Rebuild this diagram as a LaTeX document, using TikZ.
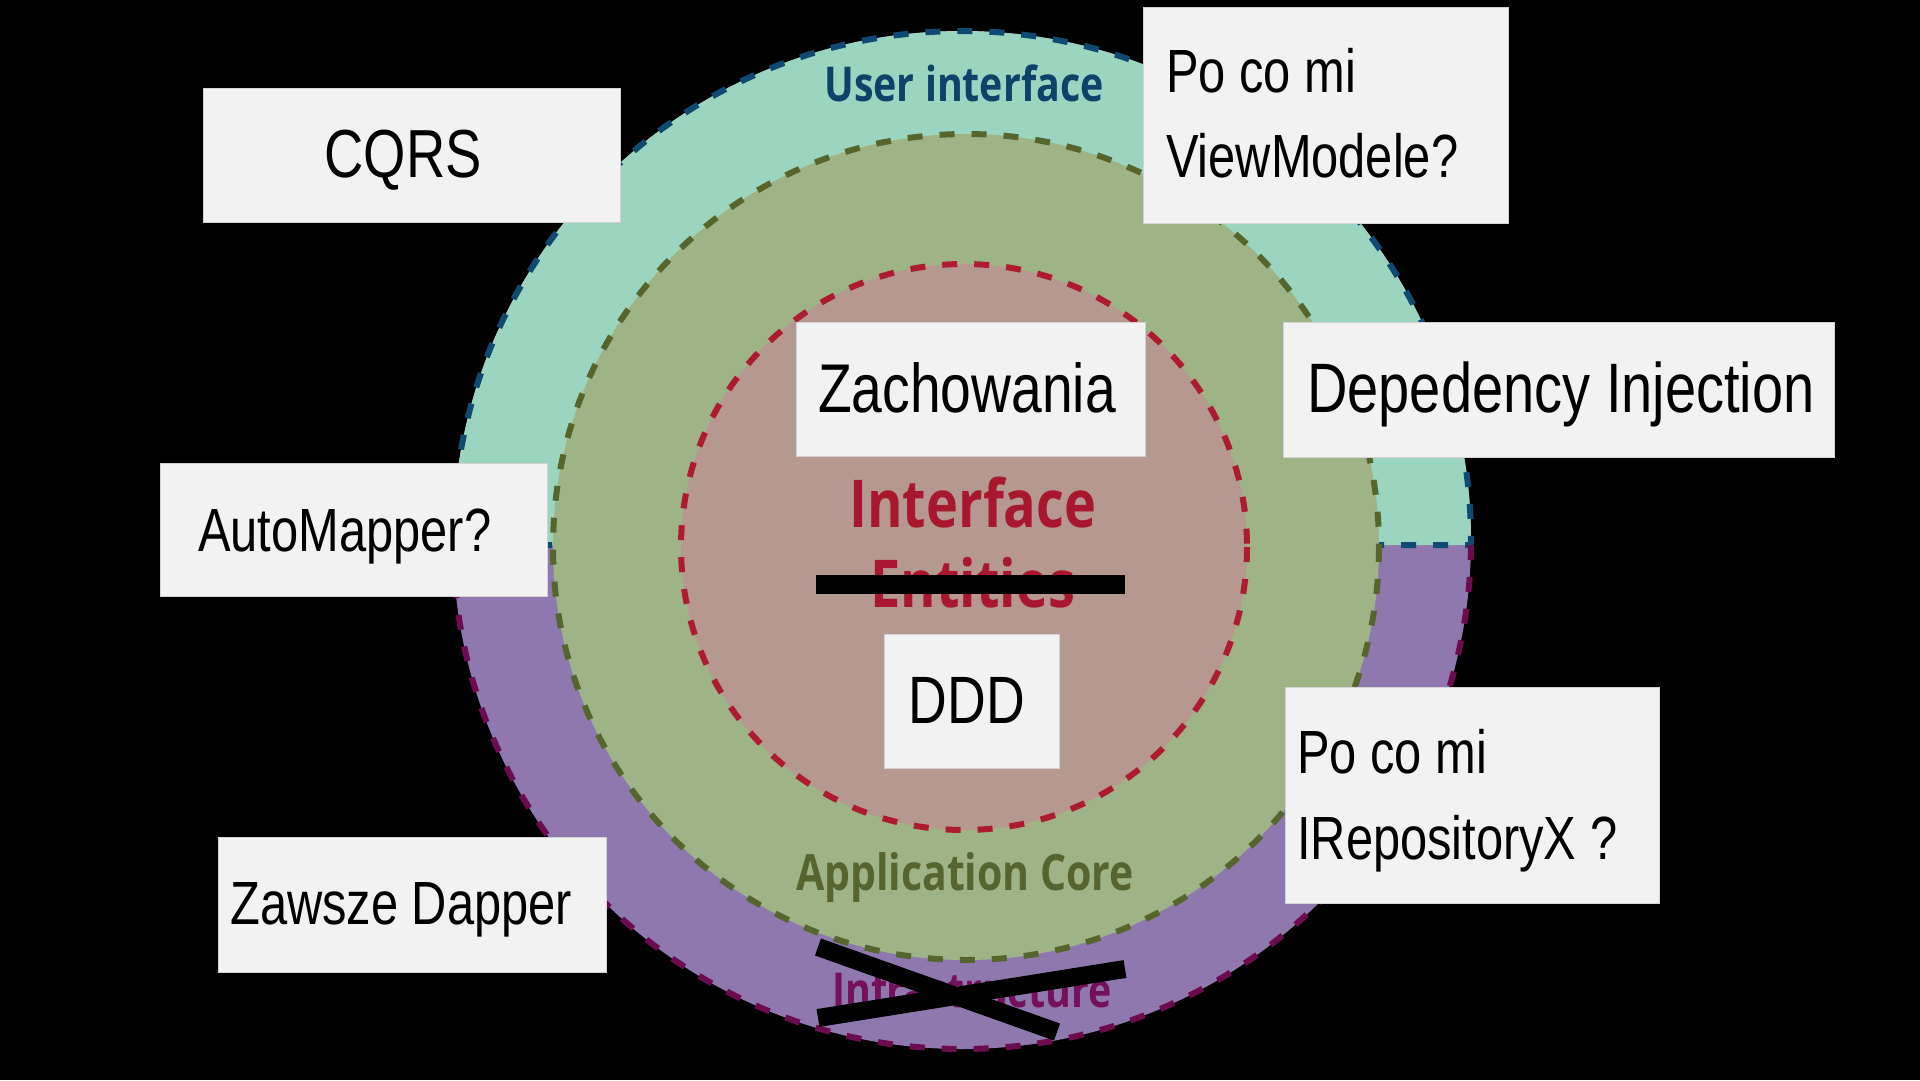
\documentclass[tikz,border=0pt]{standalone}
\usepackage{fontspec}
\setmainfont{Liberation Sans}[FakeStretch=0.8]
\newfontfamily\ringfont{Open Sans}[FakeStretch=0.82]
\definecolor{uifill}{HTML}{9BD5BF}
\definecolor{uidash}{HTML}{0E4A72}
\definecolor{uitext}{HTML}{0D4269}
\definecolor{corefill}{HTML}{9EB386}
\definecolor{coredash}{HTML}{55652C}
\definecolor{coretext}{HTML}{566530}
\definecolor{entfill}{HTML}{B5988F}
\definecolor{entdash}{HTML}{AE1A30}
\definecolor{enttext}{HTML}{A8172D}
\definecolor{infrafill}{HTML}{8F78AD}
\definecolor{infradash}{HTML}{6D0B4F}
\definecolor{infratext}{HTML}{75105A}
\definecolor{cardfill}{HTML}{F2F2F2}
\definecolor{cardedge}{HTML}{D2D2D2}
\begin{document}
\begin{tikzpicture}[x=1pt,y=-1pt,
  ringdash/.style={line width=6pt, dash pattern=on 15pt off 17pt},
  card/.style={fill=cardfill, draw=cardedge, line width=1pt},
  bigtext/.style={font=\fontsize{69}{80}\selectfont, anchor=base, inner sep=0pt, text=black},
  smalltext/.style={font=\fontsize{61}{80}\selectfont, anchor=base west, inner sep=0pt, text=black},
  ringlabel/.style={font=\ringfont\bfseries, anchor=base, inner sep=0pt},
  strikebar/.style={line width=19pt, black}
]
\fill[black] (0,0) rectangle (1920,1080);
\useasboundingbox (0,0) rectangle (1920,1080);

% outer ring: infrastructure (lower) and user interface (upper)
\coordinate (O) at (962,540);
\coordinate (splitL) at (453.03,545);
\coordinate (splitR) at (1470.97,545);
\fill[infrafill] (O) circle (509);
\filldraw[fill=uifill, draw=uidash, ringdash]
  (splitL) arc[start angle=179.437, end angle=360.563, radius=509] -- cycle;
\draw[infradash, ringdash]
  (splitR) arc[start angle=0.563, end angle=179.437, radius=509];

% application core
\coordinate (C) at (966,547);
\filldraw[fill=corefill, draw=coredash, ringdash] (C) circle (413);

% domain entities
\coordinate (E) at (964,547);
\filldraw[fill=entfill, draw=entdash, ringdash] (E) circle (283);

% ring labels
\node[ringlabel, text=uitext, font=\ringfont\bfseries\fontsize{48}{56}\selectfont] (lblui) at (964,101) {User interface};
\node[ringlabel, text=enttext, font=\ringfont\bfseries\fontsize{66}{76}\selectfont] (lblif) at (973,527) {Interface};
\node[ringlabel, text=enttext, font=\ringfont\bfseries\fontsize{66}{76}\selectfont] (lblent) at (973,607) {Entities};
\node[ringlabel, text=coretext, font=\ringfont\bfseries\fontsize{50}{58}\selectfont] (lblcore) at (965,890) {Application Core};
\node[ringlabel, text=infratext, font=\ringfont\bfseries\fontsize{48}{56}\selectfont] (lblinfra) at (972,1007) {Infrastructure};

% strike-outs
\coordinate (sA) at (816,584.5);
\coordinate (sB) at (1125,584.5);
\draw[strikebar] (sA) -- (sB);
\coordinate (xA) at (818,947);
\coordinate (xB) at (1057,1032);
\coordinate (xC) at (818,1018);
\coordinate (xD) at (1125,969);
\draw[strikebar, line width=18pt] (xA) -- (xB);
\draw[strikebar, line width=18pt] (xC) -- (xD);

% cards
\draw[card] (203,88) rectangle (620,222);
\node[bigtext, font=\fontsize{68}{80}\selectfont] (cqrs) at (403,177) {CQRS};

\draw[card] (1143,7) rectangle (1508,223);
\node[smalltext] (vm1) at (1166,92) {Po co mi};
\node[smalltext] (vm2) at (1166,177) {ViewModele?};

\draw[card] (796,322) rectangle (1145,456);
\node[bigtext] (zach) at (967,412) {Zachowania};

\draw[card] (1283,322) rectangle (1834,457);
\node[bigtext, font=\fontsize{70}{80}\selectfont] (di) at (1561,412) {Depedency Injection};

\draw[card] (160,463) rectangle (547,596);
\node[smalltext] (am) at (198,551) {AutoMapper?};

\draw[card] (884,634) rectangle (1059,768);
\node[bigtext, font=\fontsize{67}{80}\selectfont] (ddd) at (967,723) {DDD};

\draw[card] (1285,687) rectangle (1659,903);
\node[smalltext] (repo1) at (1297,773) {Po co mi};
\node[smalltext] (repo2) at (1297,859) {IRepositoryX ?};

\draw[card] (218,837) rectangle (606,972);
\node[smalltext] (dapper) at (230,924) {Zawsze Dapper};
\end{tikzpicture}
\end{document}
